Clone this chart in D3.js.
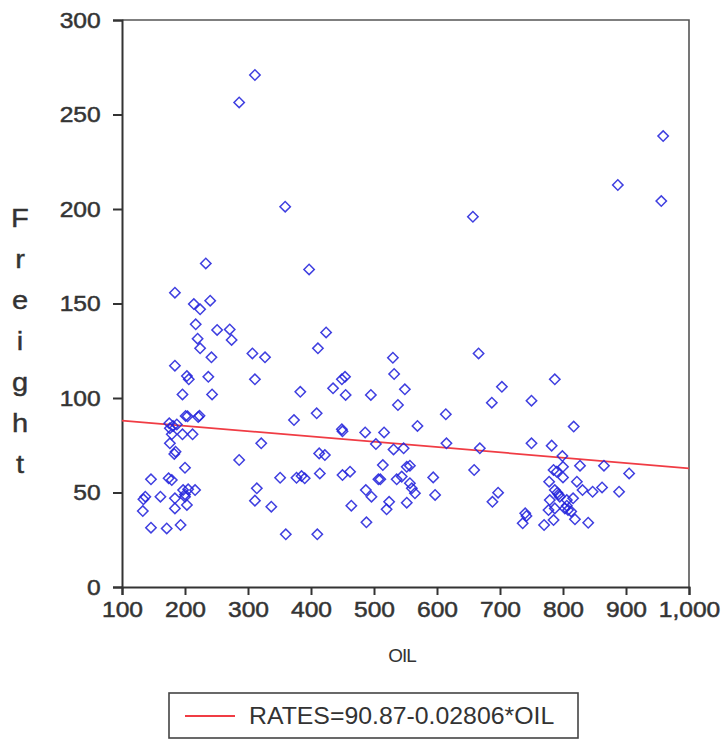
<!DOCTYPE html>
<html>
<head>
<meta charset="utf-8">
<script src="https://cdn.jsdelivr.net/npm/d3@7"></script>
<style>
  html, body { margin: 0; padding: 0; background: #fff; }
  svg { display: block; }
  text { font-family: "Liberation Sans", Arial, sans-serif; fill: #333; }
</style>
</head>
<body>
<svg id="chart" width="722" height="751"></svg>
<script>
// Oil price vs freight rate observations
const oil = [
  311, 286, 359, 233, 397, 184, 214, 240, 224, 217, 251, 271, 274, 220, 224, 242,
  307, 327, 184, 203, 206, 237, 311, 196, 243, 383, 411, 424, 409, 373, 201, 204,
  223, 221, 175, 181, 187, 176, 196, 212, 179, 176, 185, 183, 200, 146, 174, 179,
  197, 205, 216, 200, 184, 161, 137, 134, 200, 203, 184, 133, 146, 171, 193, 286,
  321, 351, 377, 385, 390, 314, 311, 337, 360, 413, 422, 414, 410, 435, 449, 454,
  455, 449, 450, 486, 516, 503, 495, 530, 532, 549, 538, 531, 547, 450, 462, 514,
  507, 510, 536, 544, 552, 487, 496, 464, 524, 520, 552, 488, 666, 703, 687, 614,
  569, 615, 668, 557, 594, 659, 557, 560, 565, 597, 697, 688, 787, 750, 817, 750,
  782, 799, 827, 865, 905, 785, 790, 800, 778, 800, 787, 791, 822, 831, 847, 862,
  889, 779, 795, 806, 816, 777, 787, 803, 808, 819, 785, 770, 840, 740, 742, 736,
  657, 887, 959, 956, 806, 813, 793
];
const freight = [
  270.9, 256.4, 201.2, 171.2, 168.0, 155.7, 149.7, 151.5, 146.9, 139.0, 136.0, 136.3, 130.7, 131.4, 126.3, 121.5,
  123.6, 121.5, 117.1, 111.6, 109.9, 111.2, 109.9, 101.9, 101.9, 103.3, 126.3, 134.7, 91.9, 88.3, 90.5, 90.3,
  90.6, 90.0, 86.6, 85.2, 86.0, 84.0, 80.8, 80.8, 80.8, 76.0, 71.6, 70.4, 63.1, 57.0, 57.5, 56.6,
  51.3, 51.7, 51.3, 49.0, 46.9, 47.8, 47.8, 46.4, 47.8, 43.4, 41.6, 40.2, 31.4, 31.0, 32.8, 67.2,
  76.0, 57.8, 57.8, 58.7, 57.5, 52.2, 45.7, 42.5, 27.9, 70.7, 69.8, 60.1, 27.9, 105.1, 109.9, 111.2,
  101.6, 83.4, 82.4, 81.8, 81.8, 75.6, 101.6, 121.3, 112.7, 104.6, 96.3, 72.8, 73.4, 59.2, 61.0, 64.5,
  57.0, 57.0, 57.0, 58.4, 63.6, 51.3, 47.8, 43.0, 45.1, 41.1, 44.6, 34.2, 123.6, 105.9, 97.5, 91.4,
  85.2, 76.0, 73.4, 64.2, 58.0, 61.9, 54.9, 52.2, 49.6, 48.7, 49.9, 45.1, 109.9, 98.6, 84.9, 76.0,
  74.8, 69.3, 64.2, 64.2, 60.1, 61.9, 61.0, 63.6, 55.7, 58.0, 51.3, 49.9, 55.7, 51.3, 50.4, 52.7,
  50.4, 46.0, 47.8, 46.0, 46.9, 40.7, 41.6, 41.6, 40.7, 35.8, 35.4, 32.8, 34.0, 39.0, 37.6, 33.7,
  195.9, 212.7, 238.6, 204.2, 43.0, 40.0, 49.0
];

// Axis ticks
const xTicks = [100, 200, 300, 400, 500, 600, 700, 800, 900, 1000];
const yTicks = [0, 50, 100, 150, 200, 250, 300];

// Fitted regression: RATES = 90.87 - 0.02806 * OIL
const fitIntercept = 90.87;
const fitSlope = -0.02806;
const fitRange = [100, 1000];
const legendLabel = "RATES=90.87-0.02806*OIL";
const xTitle = "OIL";
const yTitle = "Freight";

const svg = d3.select("#chart");
const x = d3.scaleLinear().domain([100, 1000]).range([122, 689]);
const y = d3.scaleLinear().domain([0, 300]).range([587, 20]);

const data = oil.map((o, i) => ({ oil: o, freight: freight[i] }));

// frame (top and right edges)
svg.append("path")
  .attr("d", `M${x(100)},${y(300)}H${x(1000)}V${y(0)}`)
  .attr("fill", "none").attr("stroke", "#555").attr("stroke-width", 1.6);

// axes
const xAxis = svg.append("g")
  .attr("transform", `translate(0,${y(0)})`)
  .call(d3.axisBottom(x).tickValues(xTicks).tickFormat(d3.format(",")).tickSize(8).tickPadding(6));
const yAxis = svg.append("g")
  .attr("transform", `translate(${x(100)},0)`)
  .call(d3.axisLeft(y).tickValues(yTicks).tickSize(9).tickPadding(10));

[xAxis, yAxis].forEach(g => {
  g.select(".domain").attr("stroke", "#333").attr("stroke-width", 2);
  g.selectAll(".tick line").attr("stroke", "#333").attr("stroke-width", 2);
  g.selectAll(".tick text")
    .attr("font-size", 22)
    .attr("fill", "#3a3a3a")
    .attr("stroke", "#3a3a3a").attr("stroke-width", 0.5)
    .style("font-family", "'Liberation Sans', Arial, sans-serif");
});
xAxis.selectAll(".tick text").attr("transform", "scale(1.12,1)");
yAxis.selectAll(".tick text").attr("transform", "scale(1.12,1)");

// regression line
svg.append("line")
  .attr("x1", x(fitRange[0])).attr("y1", y(fitIntercept + fitSlope * fitRange[0]))
  .attr("x2", x(fitRange[1])).attr("y2", y(fitIntercept + fitSlope * fitRange[1]))
  .attr("stroke", "#f03c44").attr("stroke-width", 1.8);

// scatter markers: open diamonds
const diamond = d3.symbol().type(d3.symbolSquare).size(54);
svg.append("g").selectAll("path")
  .data(data).join("path")
  .attr("d", diamond)
  .attr("transform", d => `translate(${x(d.oil)},${y(d.freight)}) rotate(45)`)
  .attr("fill", "none")
  .attr("stroke", "#2424dc")
  .attr("stroke-opacity", 0.88)
  .attr("stroke-width", 1.5);

// y title, letters stacked vertically
svg.append("g").selectAll("text")
  .data(yTitle.split(""))
  .join("text")
  .attr("transform", (d, i) => `translate(20,${227 + i * 41}) scale(1.12,1)`)
  .attr("text-anchor", "middle")
  .attr("font-size", 26)
  .attr("fill", "#333")
  .attr("stroke", "#333").attr("stroke-width", 0.4)
  .text(d => d);

// x title
svg.append("text")
  .attr("transform", "translate(402,662) scale(1.05,1)")
  .attr("text-anchor", "middle")
  .attr("font-size", 18)
  .attr("letter-spacing", -1)
  .attr("fill", "#333")
  .text(xTitle);

// legend
const legend = svg.append("g");
legend.append("rect")
  .attr("x", 169).attr("y", 693).attr("width", 409).attr("height", 45)
  .attr("fill", "#fff").attr("stroke", "#444").attr("stroke-width", 1.6);
legend.append("line")
  .attr("x1", 185).attr("x2", 235).attr("y1", 716).attr("y2", 716)
  .attr("stroke", "#f03c44").attr("stroke-width", 2);
legend.append("text")
  .attr("transform", "translate(249,724) scale(1.08,1)")
  .attr("font-size", 23)
  .attr("fill", "#333")
  .text(legendLabel);
</script>
</body>
</html>
